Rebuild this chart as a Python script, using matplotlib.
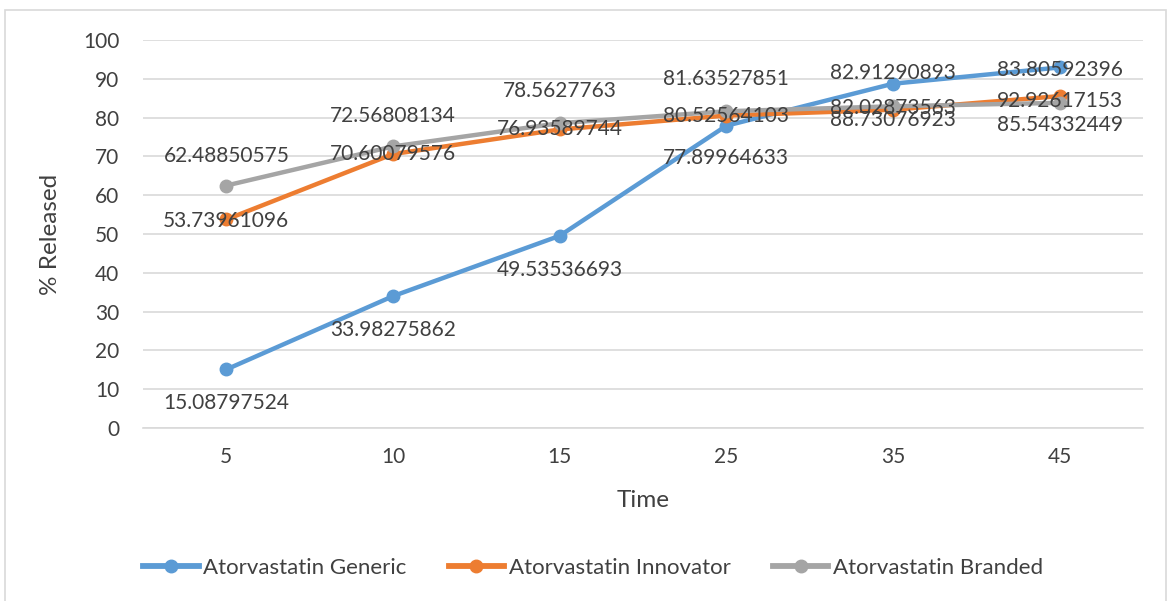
import matplotlib.pyplot as plt
from matplotlib.patches import Rectangle
from matplotlib.lines import Line2D

plt.rcParams['font.family'] = ['Lato', 'DejaVu Sans']

# dissolution data (% released vs sampling time)
time_labels = ['5', '10', '15', '25', '35', '45']
generic = [15.08797524, 33.98275862, 49.53536693, 77.89964633, 88.73076923, 92.92617153]
innovator = [53.73961096, 70.60079576, 76.93589744, 80.52564103, 82.02873563, 85.54332449]
branded = [62.48850575, 72.56808134, 78.5627763, 81.63527851, 82.91290893, 83.80592396]

# label offsets in pixels (Excel auto placement)
generic_off = [-34, -34, -34, -32, -36, -34]
innovator_off = [-2, 0, 0, 0, 2, -29]
branded_off = [30, 30, 32, 32, 33, 33]

c_gen = '#5B9BD5'
c_inn = '#ED7D31'
c_bra = '#A5A5A5'
txt = '#404040'

fig = plt.figure(figsize=(11.71, 6.01), dpi=100)
ax = fig.add_axes([143 / 1171, 1 - 428 / 601, 1000 / 1171, 388 / 601])

x = list(range(len(time_labels)))
series = [(generic, c_gen, 'Atorvastatin Generic', generic_off),
          (innovator, c_inn, 'Atorvastatin Innovator', innovator_off),
          (branded, c_bra, 'Atorvastatin Branded', branded_off)]

for vals, col, name, offs in series:
    ax.plot(x, vals, color=col, lw=3.2, marker='o', ms=9, label=name, zorder=3,
            solid_capstyle='round')

for vals, col, name, offs in series:
    for xi, v, o in zip(x, vals, offs):
        ax.annotate(f'{v:.8f}'.rstrip('0'), (xi, v),
                    xytext=(0, o), textcoords='offset pixels',
                    ha='center', va='center', fontsize=15, color=txt, zorder=4)

ax.set_xlim(-0.5, 5.5)
ax.set_ylim(0, 100)
ax.set_yticks(range(0, 101, 10))
ax.set_xticks(x)
ax.set_xticklabels(time_labels)
ax.grid(axis='y', color='#D9D9D9', lw=1.2, zorder=0)
ax.tick_params(length=0, labelsize=15, colors=txt)
ax.tick_params(axis='x', pad=14)
ax.tick_params(axis='y', pad=17)
for s in ['top', 'right', 'left']:
    ax.spines[s].set_visible(False)
ax.spines['bottom'].set_color('#D9D9D9')
ax.spines['bottom'].set_linewidth(1.2)

ax.set_xlabel('Time', fontsize=17.5, color=txt, labelpad=16)
ax.set_ylabel('% Released', fontsize=17.5, color=txt, labelpad=16)

handles = [Line2D([0], [0], color=c, lw=4.2, marker='o', ms=9) for _, c, _, _ in series]
fig.legend(handles, [s[2] for s in series], loc='center', bbox_to_anchor=(593 / 1171, 1 - 568 / 601),
           ncol=3, frameon=False, fontsize=16, labelcolor=txt, handlelength=2.5,
           handletextpad=0.2, columnspacing=1.9)

# outer chart frame
fig.patches.append(Rectangle((5 / 1171, -0.01), 1161 / 1171, 1 - 10 / 601 + 0.01,
                             transform=fig.transFigure, fill=False,
                             edgecolor='#D9D9D9', lw=1.2))

fig.savefig('out.png', dpi=100)
